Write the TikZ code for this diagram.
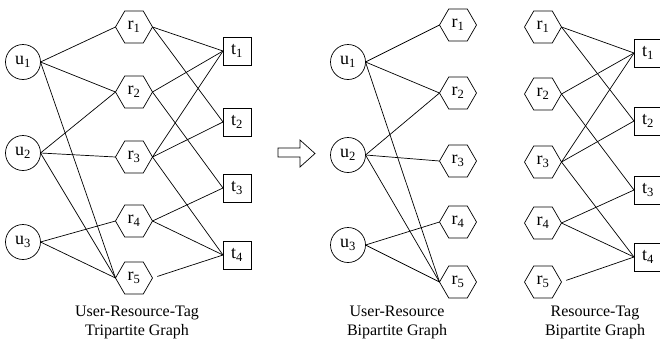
\documentclass[tikz,border=0pt]{standalone}
\usepackage{fontspec}
\setmainfont{Liberation Serif}
\usepackage{tikz}
\usetikzlibrary{arrows,shapes}
\usepackage{tkz-graph}
\newcommand{\lblfont}{\fontsize{18}{20}\selectfont}
\newcommand{\capfont}{\fontsize{16}{19}\selectfont}

\begin{document}
\begin{tikzpicture}[x=1pt,y=-1pt]
    \useasboundingbox (0,0) rectangle (660,343);
    \GraphInit[vstyle=Normal]
    \tikzset{VertexStyle/.style={draw,inner sep=0pt,
        line width=.7pt,fill=white,font=\lblfont},
      EdgeStyle/.style={draw,line width=.7pt},
      usr/.style={shape=circle,minimum size=35pt},
      res/.style={shape=regular polygon,regular polygon sides=6,minimum size=37pt},
      tag/.style={shape=rectangle,minimum size=28pt},
      caption/.style={align=center,font=\capfont}}

    % tripartite graph
    \Vertex[x=23,y=62,style=usr,L={u\textsubscript{1}}]{u1}
    \Vertex[x=23,y=153,style=usr,L={u\textsubscript{2}}]{u2}
    \Vertex[x=23,y=242,style=usr,L={u\textsubscript{3}}]{u3}
    \Vertex[x=134,y=27,style=res,L={r\textsubscript{1}}]{r1}
    \Vertex[x=134,y=92,style=res,L={r\textsubscript{2}}]{r2}
    \Vertex[x=134,y=157,style=res,L={r\textsubscript{3}}]{r3}
    \Vertex[x=134,y=221,style=res,L={r\textsubscript{4}}]{r4}
    \Vertex[x=134,y=278,style=res,L={r\textsubscript{5}}]{r5}
    \Vertex[x=237,y=51,style=tag,L={t\textsubscript{1}}]{t1}
    \Vertex[x=237,y=122,style=tag,L={t\textsubscript{2}}]{t2}
    \Vertex[x=237,y=188,style=tag,L={t\textsubscript{3}}]{t3}
    \Vertex[x=237,y=255,style=tag,L={t\textsubscript{4}}]{t4}

    \Edge(u1.east)(r1.west)
    \Edge(u1.east)(r2.west)
    \Edge(u1.east)(r5.west)
    \Edge(u2.east)(r2.west)
    \Edge(u2.east)(r3.west)
    \Edge(u2.east)(r5.west)
    \Edge(u3.east)(r4.west)
    \Edge(u3.east)(r5.west)
    \Edge(r1.east)(t1.west)
    \Edge(r1.east)(t2.west)
    \Edge(r2.east)(t1.west)
    \Edge(r2.east)(t3.west)
    \Edge(r3.east)(t1.west)
    \Edge(r3.east)(t2.west)
    \Edge(r3.east)(t4.west)
    \Edge(r4.east)(t3.west)
    \Edge(r4.east)(t4.west)
    \Edge[style={shorten <=5pt}](r5.east)(t4.west)

    \node[caption] (capA) at (137,322) {User-Resource-Tag\\Tripartite Graph};

    \draw[line width=.7pt] (278,148) -- (300,148) -- (300,140) -- (315,153.5)
      -- (300,167) -- (300,157) -- (278,157) -- cycle;

    % user-resource graph
    \Vertex[x=348,y=62,style=usr,L={u\textsubscript{1}}]{uu1}
    \Vertex[x=348,y=155,style=usr,L={u\textsubscript{2}}]{uu2}
    \Vertex[x=348,y=245,style=usr,L={u\textsubscript{3}}]{uu3}
    \Vertex[x=458,y=25,style=res,L={r\textsubscript{1}}]{ur1}
    \Vertex[x=458,y=93,style=res,L={r\textsubscript{2}}]{ur2}
    \Vertex[x=458,y=161,style=res,L={r\textsubscript{3}}]{ur3}
    \Vertex[x=458,y=222,style=res,L={r\textsubscript{4}}]{ur4}
    \Vertex[x=458,y=282,style=res,L={r\textsubscript{5}}]{ur5}

    \Edge(uu1.east)(ur1.west)
    \Edge(uu1.east)(ur2.west)
    \Edge(uu1.east)(ur5.west)
    \Edge(uu2.east)(ur2.west)
    \Edge(uu2.east)(ur3.west)
    \Edge(uu2.east)(ur5.west)
    \Edge(uu3.east)(ur4.west)
    \Edge(uu3.east)(ur5.west)

    \node[caption] (capB) at (397,322) {User-Resource\\Bipartite Graph};

    % resource-tag graph
    \Vertex[x=543,y=27,style=res,L={r\textsubscript{1}}]{rr1}
    \Vertex[x=543,y=94,style=res,L={r\textsubscript{2}}]{rr2}
    \Vertex[x=543,y=162,style=res,L={r\textsubscript{3}}]{rr3}
    \Vertex[x=543,y=223,style=res,L={r\textsubscript{4}}]{rr4}
    \Vertex[x=543,y=282,style=res,L={r\textsubscript{5}}]{rr5}
    \Vertex[x=648,y=53,style=tag,L={t\textsubscript{1}}]{rt1}
    \Vertex[x=648,y=121,style=tag,L={t\textsubscript{2}}]{rt2}
    \Vertex[x=648,y=190,style=tag,L={t\textsubscript{3}}]{rt3}
    \Vertex[x=648,y=257,style=tag,L={t\textsubscript{4}}]{rt4}

    \Edge(rr1.east)(rt1.west)
    \Edge(rr1.east)(rt2.west)
    \Edge(rr2.east)(rt1.west)
    \Edge(rr2.east)(rt3.west)
    \Edge(rr3.east)(rt1.west)
    \Edge(rr3.east)(rt2.west)
    \Edge(rr3.east)(rt4.west)
    \Edge(rr4.east)(rt3.west)
    \Edge(rr4.east)(rt4.west)
    \Edge[style={shorten <=5pt}](rr5.east)(rt4.west)

    \node[caption] (capC) at (595,322) {Resource-Tag\\Bipartite Graph};
\end{tikzpicture}
\end{document}
